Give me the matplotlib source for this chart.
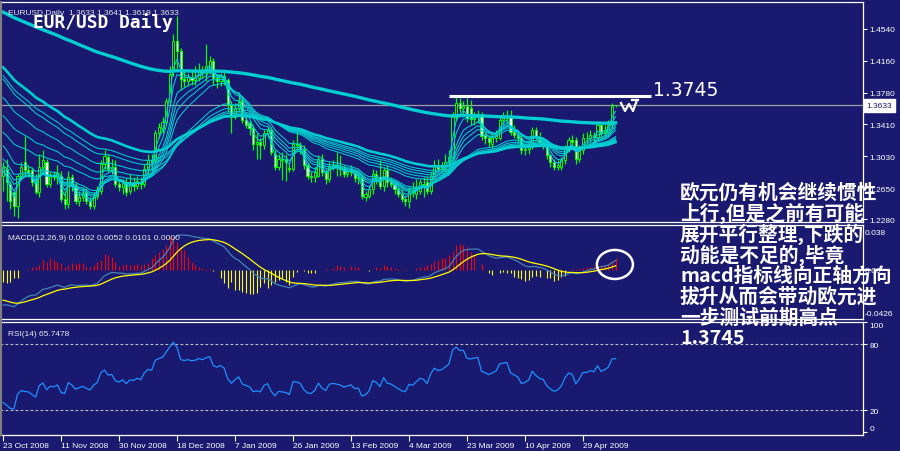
import matplotlib
matplotlib.use('Agg')
import matplotlib.pyplot as plt
import matplotlib.transforms as mtransforms
from matplotlib.patches import Ellipse
import numpy as np

# daily EUR/USD candles, 23 Oct 2008 .. early May 2009
opens = [1.280,1.288,1.270,1.260,1.244,1.280,1.296,1.286,1.286,1.275,
         1.260,1.290,1.296,1.270,1.280,1.278,1.280,1.252,1.246,1.278,
         1.268,1.250,1.254,1.260,1.250,1.244,1.256,1.262,1.294,1.302,
         1.288,1.290,1.270,1.266,1.272,1.262,1.270,1.268,1.272,1.270,
         1.288,1.298,1.299,1.330,1.336,1.343,1.368,1.405,1.440,1.428,
         1.395,1.392,1.397,1.394,1.396,1.405,1.402,1.404,1.416,1.396,
         1.392,1.398,1.394,1.364,1.350,1.360,1.369,1.346,1.342,1.336,
         1.318,1.320,1.316,1.330,1.334,1.306,1.290,1.300,1.300,1.289,
         1.288,1.317,1.316,1.312,1.292,1.280,1.278,1.280,1.300,1.284,
         1.276,1.290,1.292,1.290,1.288,1.282,1.284,1.284,1.277,1.278,
         1.255,1.256,1.264,1.282,1.278,1.268,1.286,1.272,1.270,1.264,
         1.258,1.252,1.250,1.262,1.258,1.262,1.266,1.272,1.262,1.280,
         1.292,1.288,1.288,1.296,1.302,1.350,1.366,1.360,1.362,1.360,
         1.347,1.350,1.352,1.328,1.324,1.318,1.324,1.325,1.346,1.348,
         1.350,1.332,1.328,1.324,1.310,1.312,1.315,1.334,1.326,1.320,
         1.318,1.304,1.296,1.290,1.290,1.298,1.312,1.322,1.322,1.300,
         1.310,1.324,1.324,1.328,1.326,1.340,1.330,1.332,1.340,1.3633]
highs = [1.296,1.300,1.274,1.262,1.282,1.296,1.327,1.292,1.290,1.282,
         1.305,1.310,1.300,1.284,1.285,1.292,1.285,1.262,1.285,1.282,
         1.272,1.262,1.266,1.265,1.255,1.260,1.268,1.298,1.310,1.306,
         1.300,1.298,1.276,1.276,1.277,1.282,1.278,1.280,1.278,1.294,
         1.305,1.305,1.334,1.342,1.350,1.372,1.410,1.448,1.470,1.432,
         1.405,1.402,1.404,1.410,1.414,1.410,1.436,1.422,1.420,1.400,
         1.402,1.404,1.396,1.368,1.366,1.379,1.374,1.350,1.345,1.340,
         1.330,1.325,1.334,1.338,1.338,1.310,1.305,1.308,1.305,1.294,
         1.322,1.330,1.320,1.316,1.296,1.284,1.290,1.304,1.306,1.288,
         1.296,1.298,1.308,1.304,1.292,1.288,1.292,1.286,1.284,1.282,
         1.262,1.268,1.288,1.286,1.298,1.290,1.292,1.278,1.274,1.268,
         1.264,1.256,1.266,1.272,1.276,1.276,1.278,1.280,1.284,1.298,
         1.300,1.296,1.306,1.310,1.356,1.374,1.372,1.368,1.372,1.370,
         1.356,1.358,1.356,1.332,1.328,1.330,1.334,1.350,1.356,1.358,
         1.358,1.340,1.332,1.330,1.316,1.320,1.338,1.338,1.332,1.324,
         1.322,1.306,1.300,1.298,1.302,1.316,1.326,1.328,1.326,1.316,
         1.330,1.332,1.334,1.332,1.344,1.344,1.340,1.346,1.366,1.3641]
lows = [1.262,1.250,1.240,1.232,1.230,1.275,1.280,1.278,1.268,1.258,
        1.255,1.285,1.266,1.266,1.275,1.270,1.248,1.240,1.242,1.262,
        1.246,1.244,1.250,1.246,1.240,1.240,1.252,1.258,1.288,1.284,
        1.282,1.266,1.262,1.258,1.256,1.258,1.262,1.264,1.264,1.266,
        1.282,1.288,1.295,1.325,1.330,1.340,1.362,1.398,1.405,1.382,
        1.385,1.386,1.388,1.388,1.392,1.396,1.392,1.400,1.388,1.384,
        1.386,1.388,1.356,1.330,1.347,1.356,1.342,1.336,1.328,1.310,
        1.300,1.300,1.312,1.326,1.304,1.286,1.286,1.275,1.274,1.284,
        1.285,1.310,1.306,1.288,1.276,1.272,1.272,1.278,1.280,1.270,
        1.272,1.286,1.280,1.280,1.278,1.278,1.280,1.272,1.270,1.252,
        1.250,1.253,1.258,1.270,1.264,1.262,1.266,1.266,1.258,1.254,
        1.248,1.244,1.242,1.254,1.252,1.258,1.254,1.258,1.258,1.276,
        1.284,1.284,1.284,1.292,1.298,1.345,1.355,1.352,1.344,1.340,
        1.340,1.342,1.322,1.318,1.314,1.312,1.320,1.322,1.340,1.342,
        1.328,1.324,1.320,1.306,1.304,1.306,1.312,1.322,1.315,1.312,
        1.300,1.290,1.286,1.286,1.286,1.294,1.308,1.316,1.294,1.296,
        1.306,1.318,1.320,1.320,1.322,1.326,1.326,1.328,1.336,1.3619]
closes = [1.290,1.272,1.250,1.244,1.280,1.290,1.286,1.284,1.272,1.260,
          1.290,1.298,1.270,1.280,1.278,1.283,1.252,1.246,1.278,1.268,
          1.250,1.254,1.258,1.250,1.244,1.256,1.263,1.294,1.303,1.288,
          1.290,1.270,1.266,1.272,1.260,1.270,1.268,1.274,1.270,1.288,
          1.298,1.296,1.330,1.338,1.343,1.368,1.400,1.440,1.428,1.395,
          1.392,1.397,1.394,1.396,1.405,1.402,1.410,1.416,1.396,1.392,
          1.398,1.392,1.364,1.350,1.360,1.368,1.346,1.340,1.336,1.318,
          1.320,1.316,1.330,1.334,1.308,1.290,1.300,1.298,1.296,1.288,
          1.317,1.316,1.312,1.292,1.280,1.278,1.284,1.300,1.284,1.276,
          1.290,1.292,1.290,1.288,1.282,1.284,1.286,1.277,1.278,1.256,
          1.258,1.264,1.282,1.278,1.268,1.286,1.272,1.270,1.264,1.258,
          1.252,1.250,1.262,1.260,1.266,1.272,1.270,1.262,1.280,1.292,
          1.288,1.290,1.296,1.302,1.350,1.366,1.360,1.362,1.348,1.347,
          1.350,1.352,1.327,1.324,1.320,1.324,1.328,1.346,1.348,1.350,
          1.332,1.328,1.324,1.310,1.312,1.316,1.334,1.326,1.320,1.318,
          1.304,1.296,1.290,1.292,1.298,1.312,1.322,1.320,1.300,1.310,
          1.324,1.324,1.328,1.326,1.340,1.330,1.334,1.340,1.362,1.3633]

# MACD histogram bars (red above zero, yellow below)
macd_hist = [-0.012,-0.013,-0.012,-0.008,-0.008,0.0,0.0,0.001,0.003,0.003,
             0.005,0.010,0.008,0.012,0.010,0.008,0.007,0.003,0.005,0.007,
             0.006,0.007,0.007,0.004,0.003,0.005,0.008,0.010,0.016,0.015,
             0.013,0.008,0.004,0.005,0.006,0.005,0.005,0.006,0.005,0.006,
             0.007,0.012,0.015,0.018,0.021,0.025,0.033,0.033,0.028,0.023,
             0.020,0.013,0.008,0.005,0.003,0.002,0.001,0.001,-0.001,0.0,
             -0.008,-0.013,-0.018,-0.012,-0.020,-0.020,-0.022,-0.023,-0.024,-0.024,
             -0.023,-0.017,-0.013,-0.018,-0.015,-0.012,-0.010,-0.008,-0.012,-0.015,
             -0.007,-0.002,0.0,-0.001,-0.003,-0.003,-0.003,-0.0005,-0.0005,0.0005,
             0.0,0.002,0.005,0.004,0.003,0.0,0.004,0.003,0.003,0.0,
             0.0,-0.001,0.0,0.003,0.002,0.005,0.004,0.003,0.002,0.001,
             0.0,0.0005,0.0,0.0,0.002,0.003,0.003,0.005,0.006,0.009,
             0.010,0.012,0.012,0.015,0.018,0.025,0.026,0.025,0.023,0.018,
             0.015,0.0,0.006,0.0,-0.003,-0.005,0.0,-0.003,-0.002,-0.003,
             -0.003,-0.007,-0.008,-0.009,-0.011,-0.010,-0.007,-0.006,-0.007,0.0,
             -0.008,-0.008,-0.011,-0.010,-0.007,-0.006,0.0,0.0005,0.0005,0.0005,
             0.002,0.003,0.003,0.004,0.003,0.005,0.005,0.007,0.009,0.0115]

# moving average ribbon: periods and their value on the first visible bar
ma_periods = [200, 60, 50, 45, 40, 35, 30, 15, 12, 10, 8, 5, 3]
ma_start = [1.474, 1.4085, 1.3986, 1.3946, 1.3728, 1.351, 1.3313, 1.3154, 1.2996, 1.292, 1.288, 1.285, 1.285]
macd_start = [1.300, 1.335, -0.030]   # ema12, ema26, signal on first bar
rsi_start = [0.0035, 0.0095]          # avg gain, avg loss on first bar

date_labels = ['23 Oct 2008','11 Nov 2008','30 Nov 2008','18 Dec 2008','7 Jan 2009','26 Jan 2009',
               '13 Feb 2009','4 Mar 2009','23 Mar 2009','10 Apr 2009','29 Apr 2009']
price_ticks = [1.4540, 1.4160, 1.3780, 1.3410, 1.3030, 1.2650, 1.2280]
last_price = 1.3633
resist_level = 1.3745

note_lines = ['欧元仍有机会继续惯性', '上行,但是之前有可能', '展开平行整理,下跌的', '动能是不足的,毕竟',
              'macd指标线向正轴方向', '拔升从而会带动欧元进', '一步测试前期高点', '1.3745']

def ema(vals, period, seed):
    a = 2.0 / (period + 1)
    out = [seed]
    for v in vals[1:]:
        out.append(out[-1] + a * (v - out[-1]))
    return np.array(out)

o = np.array(opens); h = np.array(highs); l = np.array(lows); c = np.array(closes)
n = len(c)
x = np.arange(n)

ema12 = ema(c, 12, macd_start[0])
ema26 = ema(c, 26, macd_start[1])
macd_line = ema12 - ema26
signal = ema(macd_line, 9, macd_start[2])

g, lo_ = rsi_start
rsi = [100 - 100 / (1 + g / lo_)]
for i in range(1, n):
    d = c[i] - c[i - 1]
    g = (g * 13 + max(d, 0)) / 14
    lo_ = (lo_ * 13 + max(-d, 0)) / 14
    rsi.append(100 - 100 / (1 + g / lo_))

W, H = 900, 452
bg = '#191970'
lime = '#00ff00'
teal = '#00ced1'
plt.rcParams['font.family'] = ['Liberation Sans', 'DejaVu Sans']

fig = plt.figure(figsize=(W / 100, H / 100), dpi=100, facecolor=bg)

def panel(y0, y1):
    ax = fig.add_axes([0, 1 - y1 / H, 863 / W, (y1 - y0) / H], facecolor=bg)
    ax.spines['left'].set_visible(False)
    for s in ['top', 'right', 'bottom']:
        ax.spines[s].set_color('white')
        ax.spines[s].set_linewidth(0.9)
    ax.set_xlim(-3 / 3.625, 860 / 3.625)
    ax.yaxis.tick_right()
    ax.tick_params(axis='y', colors='white', labelcolor='white', labelsize=6, length=3, width=0.8, pad=1.5, direction='out')
    ax.tick_params(axis='x', bottom=False, labelbottom=False)
    return ax

ax1 = panel(3, 223)
ax2 = panel(226, 320)
ax3 = panel(323, 436)

# price panel
ax1.set_ylim(1.22481, 1.48606)
ax1.axhline(last_price, color='#a0a0a0', lw=0.9, zorder=1)
ax1.vlines(x, l, h, color=lime, lw=0.9, zorder=2)
body = np.maximum(np.abs(c - o), 0.0004)
fill = ['white' if cc < oo else bg for oo, cc in zip(o, c)]
ax1.bar(x, body, bottom=np.minimum(o, c), width=0.62, color=fill, edgecolor=lime, linewidth=0.7, zorder=3)
for p, s in zip(ma_periods, ma_start):
    lw = 2.4 if p == 200 else (1.9 if p == 60 else 0.75)
    ax1.plot(x, ema(c, p, s), color=teal, lw=lw, zorder=4)
ax1.set_yticks(price_ticks)
ax1.set_yticklabels(['%.4f' % t for t in price_ticks])
ax1.text(1.004, last_price, '%.4f' % last_price, transform=mtransforms.blended_transform_factory(ax1.transAxes, ax1.transData),
         color=bg, fontsize=6, va='center', ha='left',
         bbox=dict(boxstyle='square,pad=0.35', fc='white', ec='white'))
ax1.hlines(resist_level, 123.0, 178.8, color='white', lw=2.2, zorder=5)
ax1.text(179.3, 1.3758, '1.3745', color='white', fontsize=13.5, family='DejaVu Sans', va='baseline', ha='left')
# hand drawn mark next to the last candle
wx = (np.array([621, 625, 629, 633, 637]) - 3) / 3.625
wy = 1.4540 - (np.array([104, 112, 105, 112, 101]) - 30) * 0.0011875
ax1.plot(wx, wy, color='white', lw=1.6, zorder=6)
ax1.plot((np.array([632, 638]) - 3) / 3.625, [1.4540 - 71 * 0.0011875] * 2, color='white', lw=1.6, zorder=6)

# MACD panel
ax2.set_ylim(-0.0488, 0.0448)
hc = ['#ff0000' if v > 0 else '#ffff00' for v in macd_hist]
ax2.vlines(x, 0, macd_hist, colors=hc, lw=0.8)
ax2.plot(x, macd_line, color='#4682b4', lw=0.9)
ax2.plot(x, signal, color='#ffff00', lw=0.9)
ax2.set_yticks([0.038, 0.0, -0.0426])
ax2.set_yticklabels(['0.038', '0.00', '-0.0426'])
ax2.tick_params(axis='y', length=0)
ax2.add_patch(Ellipse((168.8, 0.0055), 9.93, 0.0289, fill=False, ec='white', lw=1.8, clip_on=False, zorder=6))

# RSI panel
ax3.set_ylim(-2.7, 100)
ax3.axhline(80, color='#c0c0c0', lw=0.8, ls=(0, (2.5, 2)))
ax3.axhline(20, color='#c0c0c0', lw=0.8, ls=(0, (2.5, 2)))
ax3.plot(x, rsi, color='#1e90ff', lw=0.9)
ax3.set_yticks([100, 80, 20, 0])
ax3.set_yticklabels(['100', '80', '20', '0'])
ax3.get_yticklabels()[0].set_va('top')
ax3.get_yticklabels()[3].set_va('bottom')
ax3.set_xticks(np.arange(len(date_labels)) * 16)
ax3.set_xticklabels(date_labels, ha='left')
ax3.tick_params(axis='x', bottom=True, labelbottom=True, colors='white', labelsize=6, length=4, width=0.8, pad=1)

# texts
fig.text(8 / W, 1 - 15 / H, 'EURUSD,Daily  1.3633 1.3641 1.3619 1.3633', color='#e8e8e8', fontsize=6, va='baseline')
fig.text(33 / W, 1 - 28.5 / H, 'EUR/USD Daily', color='white', fontsize=12.9, family='DejaVu Sans Mono',
         weight='bold', va='baseline')
fig.text(8 / W, 1 - 240 / H, 'MACD(12,26,9) 0.0102 0.0052 0.0101 0.0000', color='#e8e8e8', fontsize=6, va='baseline')
fig.text(8 / W, 1 - 336 / H, 'RSI(14) 65.7478', color='#e8e8e8', fontsize=6, va='baseline')
for k, line in enumerate(note_lines):
    fig.text(680 / W, 1 - (193 + 20.8 * k) / H, line, color='white', fontsize=14.2, weight='bold',
             family=['Noto Sans CJK SC', 'DejaVu Sans'], va='center', ha='left', zorder=10)

fig.add_artist(plt.Line2D([1 / W, 1 / W], [1 - 436 / H, 1 - 3 / H], color='#808080', lw=1.5))

fig.savefig('out.png', dpi=100, facecolor=bg)
